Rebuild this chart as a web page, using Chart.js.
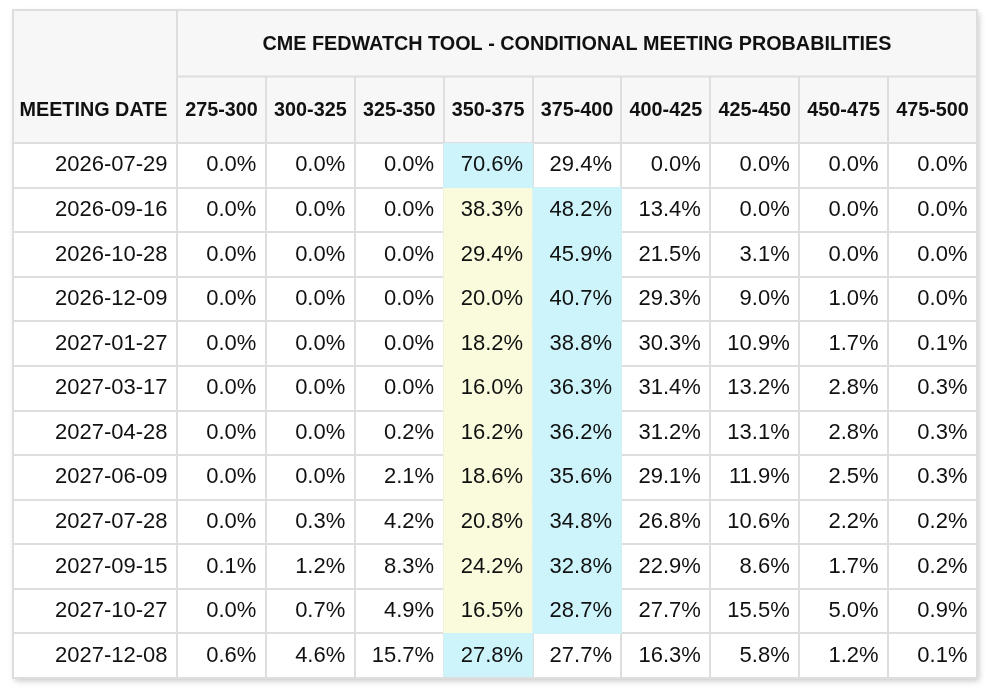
<!DOCTYPE html>
<html lang="en">
<head>
    <meta charset="UTF-8">
    <title>CME FedWatch Tool - Conditional Meeting Probabilities</title>
    <script src="https://cdn.jsdelivr.net/npm/chart.js"></script>
    <style>
        html, body { margin: 0; padding: 0; background: #ffffff; }
        #wrap { width: 992px; height: 696px; }
    </style>
</head>
<body>
    <div id="wrap"><canvas id="fedChart" width="992" height="696"></canvas></div>

    <script>
        // Datos de la tabla (probabilidades en %)
        const tableTitle = 'CME FEDWATCH TOOL - CONDITIONAL MEETING PROBABILITIES';
        const dateHeader = 'MEETING DATE';
        const currentRange = '350-375';

        const meetingDates = ['2026-07-29', '2026-09-16', '2026-10-28', '2026-12-09', '2027-01-27', '2027-03-17',
                              '2027-04-28', '2027-06-09', '2027-07-28', '2027-09-15', '2027-10-27', '2027-12-08'];
        const rateBuckets = ['275-300', '300-325', '325-350', '350-375', '375-400', '400-425', '425-450', '450-475', '475-500'];

        const p275_300 = [0.0, 0.0, 0.0, 0.0, 0.0, 0.0, 0.0, 0.0, 0.0, 0.1, 0.0, 0.6];
        const p300_325 = [0.0, 0.0, 0.0, 0.0, 0.0, 0.0, 0.0, 0.0, 0.3, 1.2, 0.7, 4.6];
        const p325_350 = [0.0, 0.0, 0.0, 0.0, 0.0, 0.0, 0.2, 2.1, 4.2, 8.3, 4.9, 15.7];
        const p350_375 = [70.6, 38.3, 29.4, 20.0, 18.2, 16.0, 16.2, 18.6, 20.8, 24.2, 16.5, 27.8];
        const p375_400 = [29.4, 48.2, 45.9, 40.7, 38.8, 36.3, 36.2, 35.6, 34.8, 32.8, 28.7, 27.7];
        const p400_425 = [0.0, 13.4, 21.5, 29.3, 30.3, 31.4, 31.2, 29.1, 26.8, 22.9, 27.7, 16.3];
        const p425_450 = [0.0, 0.0, 3.1, 9.0, 10.9, 13.2, 13.1, 11.9, 10.6, 8.6, 15.5, 5.8];
        const p450_475 = [0.0, 0.0, 0.0, 1.0, 1.7, 2.8, 2.8, 2.5, 2.2, 1.7, 5.0, 1.2];
        const p475_500 = [0.0, 0.0, 0.0, 0.0, 0.1, 0.3, 0.3, 0.3, 0.2, 0.2, 0.9, 0.1];

        const columns = [p275_300, p300_325, p325_350, p350_375, p375_400, p400_425, p425_450, p450_475, p475_500];

        const FONT = "'Liberation Sans', Arial, Helvetica, sans-serif";
        const LINE = '#dedede';

        // Celdas resaltadas: la probabilidad mas alta (cian) y el rango actual (amarillo)
        const maxCells = [];
        const currentCells = [];
        meetingDates.forEach((d, r) => {
            let best = 0;
            columns.forEach((col, c) => { if (col[r] > columns[best][r]) best = c; });
            maxCells.push({ x: rateBuckets[best], y: [r, r + 1] });
            if (rateBuckets[best] !== currentRange) {
                currentCells.push({ x: currentRange, y: [r, r + 1] });
            }
        });

        // Plugin para el fondo, los bordes y los textos de la tabla
        const tablePlugin = {
            id: 'tablePlugin',
            beforeDraw(chart) {
                const { ctx, chartArea, scales } = chart;
                const left = scales.y.left, top = scales.x.top;
                ctx.save();
                ctx.shadowColor = 'rgba(0, 0, 0, 0.22)';
                ctx.shadowBlur = 6;
                ctx.shadowOffsetX = 2;
                ctx.shadowOffsetY = 3;
                ctx.fillStyle = '#ffffff';
                ctx.fillRect(left, top, chartArea.right - left, chartArea.bottom - top);
                ctx.restore();
                ctx.fillStyle = '#f7f7f7';
                ctx.fillRect(left, top, chartArea.right - left, chartArea.top - top);
            },
            afterDraw(chart) {
                const { ctx, chartArea, scales } = chart;
                const xs = scales.x, ys = scales.y;
                const left = ys.left, top = xs.top;
                const split = top + (xs.bottom - xs.top) / 2;

                ctx.save();
                ctx.strokeStyle = LINE;
                ctx.lineWidth = 2;
                ctx.beginPath();
                ctx.moveTo(chartArea.left, split);
                ctx.lineTo(chartArea.right, split);
                ctx.moveTo(chartArea.left, top);
                ctx.lineTo(chartArea.left, chartArea.top);
                ctx.stroke();
                ctx.strokeRect(left, top, chartArea.right - left, chartArea.bottom - top);

                ctx.fillStyle = '#111111';
                ctx.font = 'bold 19.8px ' + FONT;
                ctx.textAlign = 'right';
                ctx.textBaseline = 'middle';
                ctx.fillText(dateHeader, ys.right - 9.5, (split + chartArea.top) / 2 + 1);

                // Valores de cada celda
                const half = (xs.getPixelForValue(1) - xs.getPixelForValue(0)) / 2;
                ctx.font = '22px ' + FONT;
                columns.forEach((col, c) => {
                    const x = xs.getPixelForValue(c) + half - 9.5;
                    col.forEach((v, r) => {
                        ctx.fillText(v.toFixed(1) + '%', x, ys.getPixelForValue(r));
                    });
                });
                ctx.restore();
            }
        };

        const ctx = document.getElementById('fedChart').getContext('2d');
        const fedChart = new Chart(ctx, {
            type: 'bar',
            data: {
                labels: rateBuckets,
                datasets: [{
                    label: 'Highest probability',
                    data: maxCells,
                    backgroundColor: '#cdf4fb',
                    yAxisID: 'yRow',
                    grouped: false,
                    barPercentage: 1,
                    categoryPercentage: 1
                }, {
                    label: 'Current target range',
                    data: currentCells,
                    backgroundColor: '#fafadc',
                    yAxisID: 'yRow',
                    grouped: false,
                    barPercentage: 1,
                    categoryPercentage: 1
                }]
            },
            options: {
                responsive: false,
                animation: false,
                layout: { padding: { left: 13, top: 10, right: 15, bottom: 18 } },
                plugins: {
                    legend: { display: false },
                    tooltip: { enabled: false }
                },
                scales: {
                    x: {
                        type: 'category',
                        position: 'top',
                        offset: true,
                        z: 1,
                        afterFit: (scale) => { scale.height = 133; },
                        grid: { offset: true, color: LINE, lineWidth: 2, tickLength: 67, tickColor: LINE },
                        border: { color: LINE, width: 2 },
                        ticks: {
                            padding: -46.5,
                            maxRotation: 0,
                            autoSkip: false,
                            color: '#111111',
                            font: { family: FONT, size: 19.8, weight: 'bold' }
                        },
                        title: {
                            display: true,
                            text: tableTitle,
                            color: '#111111',
                            padding: { top: 23, bottom: 0 },
                            font: { family: FONT, size: 19.8, weight: 'bold' }
                        }
                    },
                    y: {
                        type: 'category',
                        labels: meetingDates,
                        position: 'left',
                        offset: true,
                        z: 1,
                        afterFit: (scale) => { scale.width = 164; },
                        grid: { offset: true, color: LINE, lineWidth: 2, tickLength: 164, tickColor: LINE },
                        border: { color: LINE, width: 2 },
                        ticks: {
                            padding: -154.5,
                            autoSkip: false,
                            color: '#111111',
                            font: { family: FONT, size: 22 }
                        }
                    },
                    yRow: {
                        type: 'linear',
                        display: false,
                        min: 0,
                        max: meetingDates.length,
                        reverse: true
                    }
                }
            },
            plugins: [tablePlugin]
        });
    </script>
</body>
</html>
